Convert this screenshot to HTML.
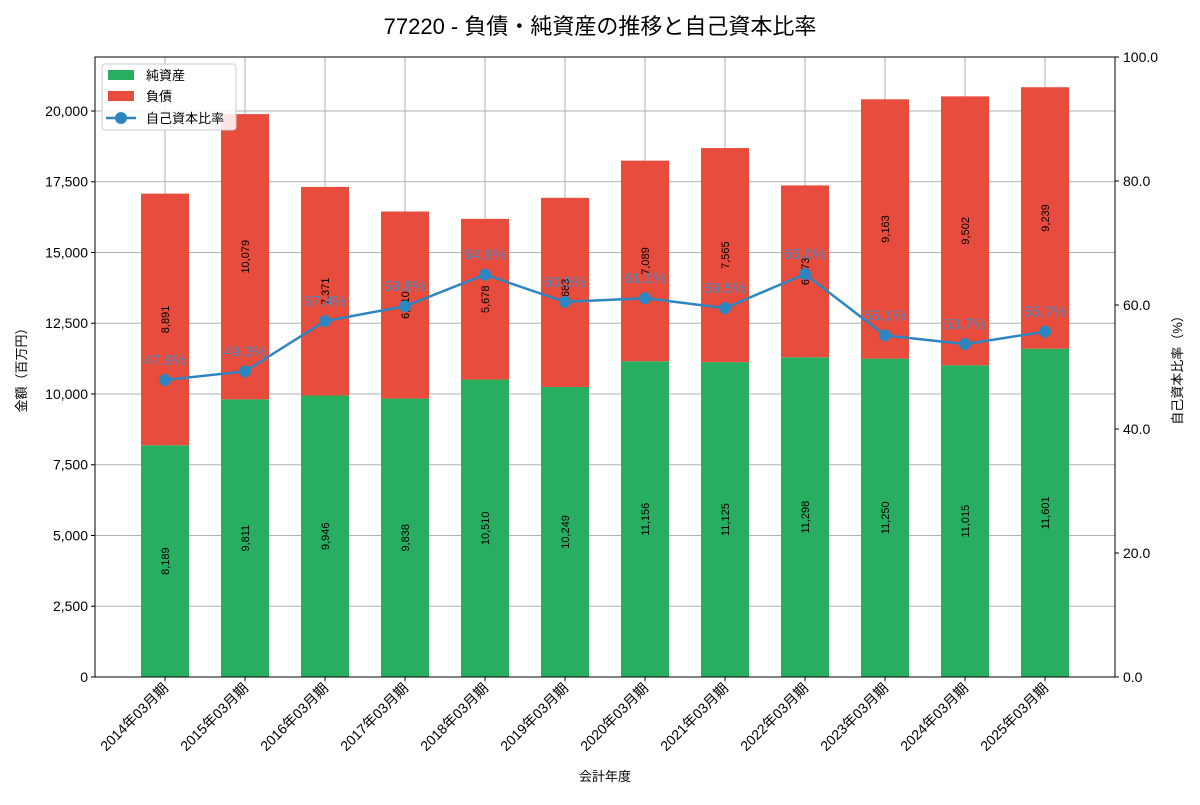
<!DOCTYPE html>
<html><head><meta charset="utf-8"><style>
body{margin:0;background:#fff;}
svg text{font-family:"Liberation Sans","Noto Sans CJK JP",sans-serif;}
</style></head><body>
<svg id="c" width="1200" height="800" xmlns="http://www.w3.org/2000/svg"></svg>
<script>
const categories=["2014年03月期","2015年03月期","2016年03月期","2017年03月期","2018年03月期","2019年03月期","2020年03月期","2021年03月期","2022年03月期","2023年03月期","2024年03月期","2025年03月期"];
const equity=[8189,9811,9946,9838,10510,10249,11156,11125,11298,11250,11015,11601];
const debt=[8891,10079,7371,6610,5678,6683,7089,7565,6073,9163,9502,9239];
const ratio=[47.9,49.3,57.4,59.8,64.9,60.5,61.1,59.5,65.0,55.1,53.7,55.7];
const leftTicks=[0,2500,5000,7500,10000,12500,15000,17500,20000];
const rightTicks=[0,20,40,60,80,100];
const NS="http://www.w3.org/2000/svg";
const svg=document.getElementById('c');
const L=95,R=1115,T=57,B=677,yMax=21908;
const y=v=>B-(v/yMax)*(B-T);
const yr=v=>B-(v/100)*(B-T);
const x=i=>165+80*i;
function el(tag,attrs,text){const e=document.createElementNS(NS,tag);for(const k in attrs)e.setAttribute(k,attrs[k]);if(text!==undefined)e.textContent=text;svg.appendChild(e);return e;}
let t=el('text',{x:600,y:34,'text-anchor':'middle','font-size':22,fill:'#000'},'77220 - 負債・純資産の推移と自己資本比率');

// grid
leftTicks.forEach(v=>{let g=el('line',{x1:L,x2:R,y1:y(v),y2:y(v),stroke:'#b0b0b0','stroke-width':1});
let tl=el('text',{x:L-7,y:y(v)+5,'text-anchor':'end','font-size':14},v.toLocaleString('en-US'));
el('line',{x1:L-4,x2:L,y1:y(v),y2:y(v),stroke:'#000'});});
categories.forEach((c,i)=>{let g=el('line',{x1:x(i),x2:x(i),y1:T,y2:B,stroke:'#b0b0b0','stroke-width':1});});
// bars
categories.forEach((c,i)=>{
 let b1=el('rect',{x:x(i)-24,y:y(equity[i]),width:48,height:B-y(equity[i]),fill:'#27ae60'});
 
 let b2=el('rect',{x:x(i)-24,y:y(equity[i]+debt[i]),width:48,height:y(equity[i])-y(equity[i]+debt[i]),fill:'#e74c3c'});
 
 let my=y(equity[i]/2);
 let l1=el('text',{x:x(i)+4,y:my,'font-size':11,'text-anchor':'middle',transform:`rotate(-90 ${x(i)+4} ${my})`},equity[i].toLocaleString('en-US'));
 
 let dy=y(equity[i]+debt[i]/2);
 let l2=el('text',{x:x(i)+4,y:dy,'font-size':11,'text-anchor':'middle',transform:`rotate(-90 ${x(i)+4} ${dy})`},debt[i].toLocaleString('en-US'));
 
 let xl=el('text',{x:x(i)+4,y:B+12,'font-size':14,'text-anchor':'end',transform:`rotate(-45 ${x(i)+4} ${B+12})`},c);
 
 el('line',{x1:x(i),x2:x(i),y1:B,y2:B+4,stroke:'#000'});
});
// line
let pl=el('polyline',{points:ratio.map((r,i)=>x(i)+','+yr(r)).join(' '),fill:'none',stroke:'#2e86c1','stroke-width':2.5});

ratio.forEach((r,i)=>{let p=el('circle',{cx:x(i),cy:yr(r),r:6,fill:'#2e86c1'});
let rl=el('text',{x:x(i),y:yr(r)-15,'font-size':15,'text-anchor':'middle',fill:'#3a8fd0','fill-opacity':0.9},r.toFixed(1)+'%');});
// right axis
rightTicks.forEach(v=>{el('line',{x1:R,x2:R+4,y1:yr(v),y2:yr(v),stroke:'#000'});
let tl=el('text',{x:R+8,y:yr(v)+5,'font-size':14},v.toFixed(1));});
let fr=el('rect',{x:L,y:T,width:R-L,height:B-T,fill:'none',stroke:'#000','stroke-width':1});

let yt=el('text',{x:26,y:367,'font-size':13,'text-anchor':'middle',transform:'rotate(-90 26 367)'},'金額（百万円）');
let y2t=el('text',{x:1182,y:367,'font-size':13,'text-anchor':'middle',transform:'rotate(-90 1182 367)'},'自己資本比率（%）');
let xt=el('text',{x:605,y:781,'font-size':13,'text-anchor':'middle'},'会計年度');
// legend
let lg=el('rect',{x:102,y:64,width:134,height:66,fill:'#fff','fill-opacity':0.85,stroke:'#ccc',rx:3});
el('rect',{x:108,y:70,width:26,height:10,fill:'#27ae60'});
let a=el('text',{x:146,y:80,'font-size':13},'純資産');
el('rect',{x:108,y:91,width:26,height:10,fill:'#e74c3c'});
let b=el('text',{x:146,y:101,'font-size':13},'負債');
el('line',{x1:106,x2:136,y1:118,y2:118,stroke:'#2e86c1','stroke-width':2.5});
el('circle',{cx:121,cy:118,r:6,fill:'#2e86c1'});
let d=el('text',{x:146,y:123,'font-size':13},'自己資本比率');
</script>
</body></html>
